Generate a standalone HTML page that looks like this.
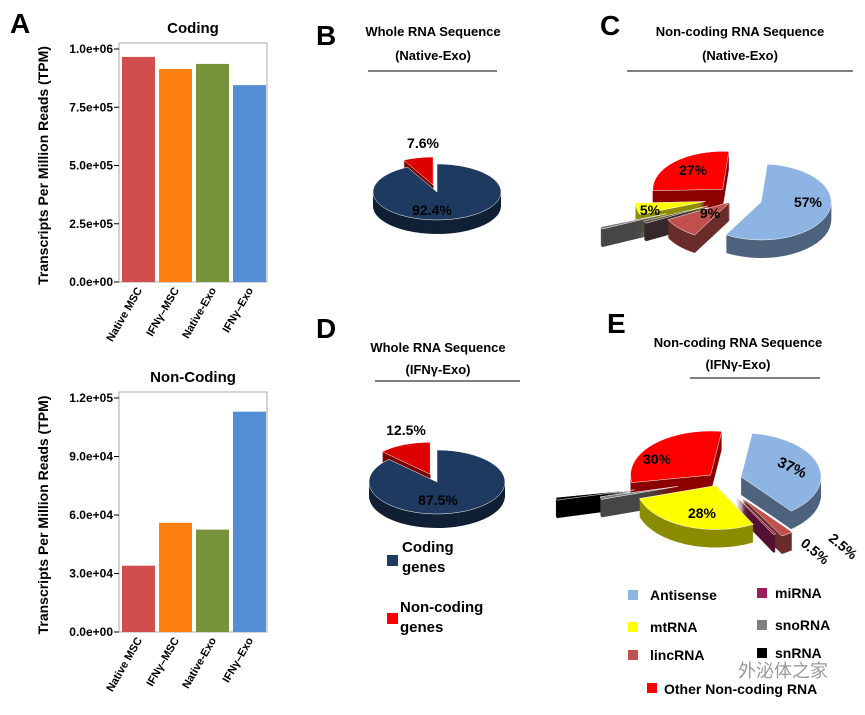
<!DOCTYPE html>
<html><head><meta charset="utf-8"><style>
body{margin:0;background:#fff;width:865px;height:710px;overflow:hidden}
svg{font-family:"Liberation Sans","Noto Sans CJK SC",sans-serif;font-weight:bold}
</style></head><body>
<svg id="fig" width="865" height="710" viewBox="0 0 865 710">
<g font-size="28" fill="#000">
<text x="10" y="33">A</text>
<text x="316" y="45">B</text>
<text x="600" y="35">C</text>
<text x="316" y="338">D</text>
<text x="607" y="333">E</text>
</g>
<g font-size="13" text-anchor="middle">
<text x="433" y="36">Whole RNA Sequence</text>
<text x="433" y="60">(Native-Exo)</text>
<line x1="368" y1="71" x2="497" y2="71" stroke="#000"/>
<text x="740" y="36">Non-coding RNA Sequence</text>
<text x="740" y="60">(Native-Exo)</text>
<line x1="627" y1="71" x2="853" y2="71" stroke="#000"/>
<text x="438" y="352">Whole RNA Sequence</text>
<text x="438" y="374">(IFNγ-Exo)</text>
<line x1="375" y1="381" x2="520" y2="381" stroke="#000"/>
<text x="738" y="347">Non-coding RNA Sequence</text>
<text x="738" y="369">(IFNγ-Exo)</text>
<line x1="690" y1="378" x2="820" y2="378" stroke="#000"/>
</g>
<g id="bars"></g>
<g id="pies"></g>
<g font-size="15">
<rect x="387" y="555" width="11" height="11" fill="#1f3a60"/>
<text x="402" y="552"><tspan x="402">Coding</tspan><tspan x="402" dy="20">genes</tspan></text>
<rect x="387" y="613" width="11" height="11" fill="#ff0000"/>
<text x="400" y="612"><tspan x="400">Non-coding</tspan><tspan x="400" dy="20">genes</tspan></text>
</g>
<g font-size="14">
<rect x="628" y="590" width="10" height="10" fill="#8eb4e3"/><text x="650" y="600">Antisense</text>
<rect x="757" y="588" width="10" height="10" fill="#9b1e5a"/><text x="775" y="598">miRNA</text>
<rect x="628" y="622" width="10" height="10" fill="#ffff00"/><text x="650" y="632">mtRNA</text>
<rect x="757" y="620" width="10" height="10" fill="#7f7f7f"/><text x="775" y="630">snoRNA</text>
<rect x="628" y="650" width="10" height="10" fill="#c0504d"/><text x="650" y="660">lincRNA</text>
<rect x="757" y="648" width="10" height="10" fill="#000"/><text x="775" y="658">snRNA</text>
<rect x="647" y="683" width="10" height="10" fill="#ff0000"/><text x="664" y="694">Other Non-coding RNA</text>
<text x="738" y="677" font-size="18" font-weight="normal" fill="#999">外泌体之家</text>
</g>
</svg>
<script>
const NS="http://www.w3.org/2000/svg";
const categories=["Native MSC","IFNγ–MSC","Native-Exo","IFNγ–Exo"];
const barColors=["#d24e4e","#ff7f0e","#77933c","#558ed5"];
const codingValues=[966000,914000,936000,845000];
const codingTicks=[0,250000,500000,750000,1000000];
const codingTickLabels=["0.0e+00","2.5e+05","5.0e+05","7.5e+05","1.0e+06"];
const noncodingValues=[34000,56000,52500,113000];
const noncodingTicks=[0,30000,60000,90000,120000];
const noncodingTickLabels=["0.0e+00","3.0e+04","6.0e+04","9.0e+04","1.2e+05"];
const pieB=[92.4,7.6];
const pieD=[87.5,12.5];
const pieC=[57,9,1,1,5,27];
const pieE=[37,2.5,0.5,28,1,1,30];

function el(tag,attrs,parent){const e=document.createElementNS(NS,tag);for(const k in attrs)e.setAttribute(k,attrs[k]);parent.appendChild(e);return e;}

function barChart(title,vals,ticks,labels,y0,y1,prefix){
  const g=document.getElementById('bars');
  const x0=119,x1=267,max=ticks[ticks.length-1];
  const ys=v=>y1-(v/max)*(y1-y0);
  const t=el('text',{x:193,y:y0-16,'font-size':15,'text-anchor':'middle'},g);t.textContent=title;
  
  
  const box=el('rect',{x:x0,y:y0-6,width:x1-x0,height:y1-y0+6,fill:'none',stroke:'#aaa'},g);
  
  
  ticks.forEach((v,i)=>{const y=ys(v);
    const l=el('line',{x1:x0-5,x2:x0,y1:y,y2:y,stroke:'#000'},g);
    
    
    const tx=el('text',{x:x0-6,y:y+4,'font-size':12,'text-anchor':'end'},g);tx.textContent=labels[i];
    
    });
  const bw=(x1-x0)/4;
  vals.forEach((v,i)=>{const bx=x0+2+i*bw+1;
    const r=el('rect',{x:bx,y:ys(v),width:bw-4,height:y1-ys(v),fill:barColors[i]},g);
    
    
    const cx=bx+bw/2+2;
    const lab=el('text',{x:cx,y:y1+8,'font-size':11,'text-anchor':'end',transform:`rotate(-60 ${cx} ${y1+8})`},g);lab.textContent=categories[i];
    
    });
  const yc=(y0+y1)/2;
  const at=el('text',{x:48,y:yc,'font-size':14,'text-anchor':'middle',transform:`rotate(-90 48 ${yc})`},g);at.textContent="Transcripts Per Million Reads (TPM)";
  
  
}
barChart("Coding",codingValues,codingTicks,codingTickLabels,49,282,'coding');
barChart("Non-Coding",noncodingValues,noncodingTicks,noncodingTickLabels,398,632,'noncoding');

function shade(hex,f){const n=parseInt(hex.slice(1),16);let r=n>>16,g=(n>>8)&255,b=n&255;return `rgb(${Math.round(r*f)},${Math.round(g*f)},${Math.round(b*f)})`;}
function pie(name,vals,opts){
  const g=el('g',{},document.getElementById('pies'));
  
  
  const total=vals.reduce((a,b)=>a+b,0);
  let a=opts.start;const sl=[];
  vals.forEach((v,i)=>{const sw=v/total*360;sl.push({i,v,a0:a,a1:a+sw,mid:a+sw/2});a+=sw;});
  sl.sort((p,q)=>Math.sin(p.mid*Math.PI/180)-Math.sin(q.mid*Math.PI/180));
  sl.forEach(s=>{
    const ex=opts.explode[s.i]||0,m=s.mid*Math.PI/180;
    const cx=opts.cx+Math.cos(m)*ex*opts.rx/opts.ry*0.6,cy=opts.cy+Math.sin(m)*ex*0.6;
    const P=(ang,yo)=>[cx+opts.rx*Math.cos(ang*Math.PI/180),cy+yo+opts.ry*Math.sin(ang*Math.PI/180)];
    const path=yo=>{const p0=P(s.a0,yo),p1=P(s.a1,yo);const large=(s.a1-s.a0)>180?1:0;
      return `M${cx},${cy+yo}L${p0[0]},${p0[1]}A${opts.rx},${opts.ry} 0 ${large} 1 ${p1[0]},${p1[1]}Z`;};
    const col=opts.colors[s.i];
    for(let d=opts.depth;d>0;d-=1){const e=el('path',{d:path(d),fill:shade(col,0.55)},g);
      
      }
    const top=el('path',{d:path(0),fill:col,stroke:'#fff','stroke-width':0.5},g);
    
    
  });
  (opts.labels||[]).forEach(L=>{const t=el('text',{x:L[1],y:L[2],'font-size':L[3]||14,'text-anchor':'middle',transform:L[4]||''},g);t.textContent=L[0];
    
    });
}
pie('pie-b',pieB,{cx:437,cy:192,rx:64,ry:28,depth:14,start:-90,explode:{1:12},colors:['#1f3a60','#dd0000'],
  labels:[[pieB[1]+'%',423,148],[pieB[0]+'%',432,215,14]]});
pie('pie-d',pieD,{cx:437,cy:482,rx:68,ry:32,depth:14,start:-90,explode:{1:14},colors:['#1f3a60','#dd0000'],
  labels:[[pieD[1]+'%',406,435],[pieD[0]+'%',438,505]]});
pie('pie-c',pieC,{cx:738,cy:198,rx:70,ry:38,depth:18,start:-85,explode:{0:22,1:10,2:30,3:70,4:30,5:20},colors:['#8eb4e3','#c0504d','#604a4a','#7f7f7f','#ffff00','#ff0000','#000000'],
  labels:[[pieC[0]+'%',808,207],[pieC[1]+'%',710,218],[pieC[4]+'%',650,215],[pieC[5]+'%',693,175]]});
pie('pie-e',pieE,{cx:720,cy:480,rx:80,ry:44,depth:18,start:-82,explode:{0:20,1:36,2:30,3:10,4:40,5:80,6:12},colors:['#8eb4e3','#c0504d','#9b1e5a','#ffff00','#7f7f7f','#000000','#ff0000'],
  labels:[[pieE[0]+'%',790,472,15,'rotate(25 790 472)'],[pieE[3]+'%',702,518],[pieE[6]+'%',657,464],['2.5%',840,550,14,'rotate(40 840 550)'],['0.5%',812,555,14,'rotate(40 812 555)']]});
</script>
</body></html>
